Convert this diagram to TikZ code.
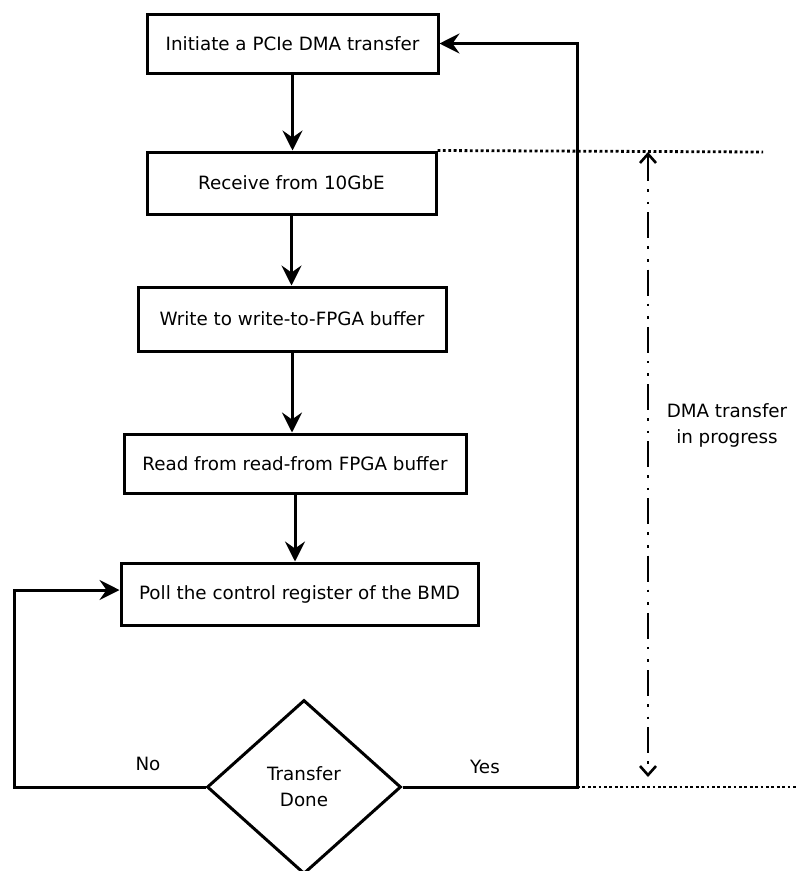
\documentclass[tikz,border=0pt]{standalone}
\usepackage{fontspec}
\setmainfont{DejaVu Sans}
\usetikzlibrary{arrows.meta,shapes.geometric}
\begin{document}
\begin{tikzpicture}[x=1pt,y=-1pt,
  txt/.style={font=\fontsize{18.3}{26}\selectfont, text=black},
  stepbox/.style={draw, line width=3pt, inner sep=0pt, txt},
  decision/.style={draw, diamond, line width=3pt, inner sep=0pt, txt, align=center,
    minimum width=194pt, minimum height=174pt},
  flow/.style={line width=3pt, -{Stealth[length=20pt,width=20pt,inset=7pt]}},
  dotline/.style={line width=2.8pt, dash pattern=on 2.8pt off 2.6pt},
  span/.style={line width=2.6pt, dash pattern=on 26pt off 8pt on 2.6pt off 10pt on 2.6pt off 8pt,
    {Straight Barb[length=9pt,width=16pt]}-{Straight Barb[length=9pt,width=16pt]}}
]
% canvas
\useasboundingbox (0,0) rectangle (798,871);

% process steps
\node[stepbox, minimum width=291pt, minimum height=59pt] (b1) at (292.5,43.5) {Initiate a PCIe DMA transfer};
\node[stepbox, minimum width=289pt, minimum height=62pt] (b2) at (291.5,183) {Receive from 10GbE};
\node[stepbox, minimum width=308pt, minimum height=64pt] (b3) at (292,319) {Write to write-to-FPGA buffer};
\node[stepbox, minimum width=342pt, minimum height=59pt] (b4) at (295,463.5) {Read from read-from FPGA buffer};
\node[stepbox, minimum width=357pt, minimum height=62pt] (b5) at (299.5,594) {Poll the control register of the BMD};

% decision
\node[decision] (dec) at (304,787) {Transfer\\Done};

% helper points
\coordinate (yesc) at (577,787);
\coordinate (noc) at (14,787);
\coordinate (topend) at (763,152);
\coordinate (botend) at (798,787);
\coordinate (spantop) at (648,152);
\coordinate (spanbot) at (648,777);

% main flow
\draw[flow] (b1.south) -- (b1.south |- b2.north);
\draw[flow] (b2.south) -- (b2.south |- b3.north);
\draw[flow] (b3.south) -- (b3.south |- b4.north);
\draw[flow] (b4.south) -- (b4.south |- b5.north);

% loop back on "Yes"
\draw[flow] (dec.east) -- (yesc) |- (b1.east);
% retry on "No"
\draw[flow] (dec.west) -- (noc) |- ([yshift=4pt]b5.west);

% branch labels
\node[txt] (yes) at (485,767) {Yes};
\node[txt] (no) at (148,764) {No};

% DMA window markers
\draw[dotline] (b2.north east) -- (topend);
\draw[dotline] (yesc) -- (botend);
\draw[span] (spantop) -- (spanbot);
\node[txt, align=center] (lbl) at (727,425) {DMA transfer\\in progress};
\end{tikzpicture}
\end{document}
